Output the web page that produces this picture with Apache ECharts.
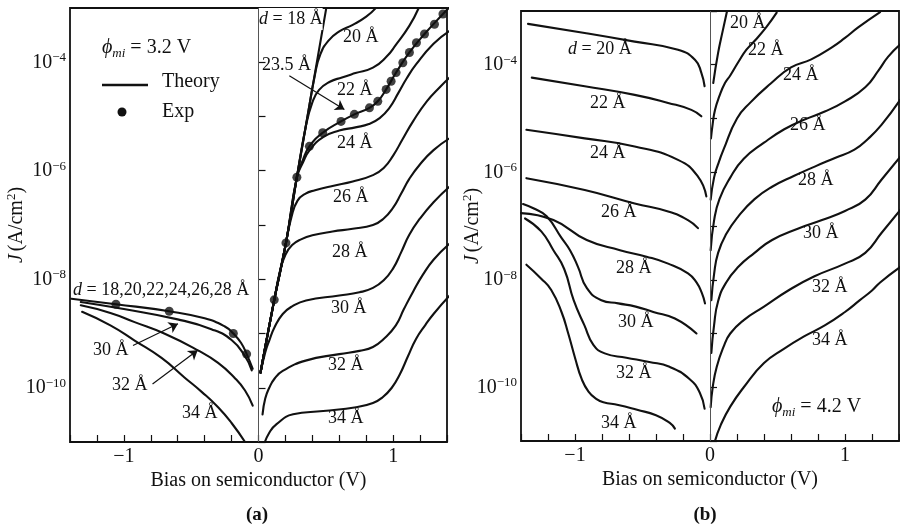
<!DOCTYPE html>
<html><head><meta charset="utf-8">
<script src="https://cdn.jsdelivr.net/npm/echarts/dist/echarts.min.js"></script>
<style>html,body{margin:0;padding:0;background:#fff}#c{width:900px;height:527px}</style>
</head><body><div id="c"></div>
<script>
// ---------- DATA (x = bias V, values = log10 J [A/cm^2]) ----------
// Panel (a), phi_mi = 3.2 V, forward bias
const Va18  = [0.015, 0.117, 0.204, 0.285, 0.502];
const La18  = [-9.72, -8.38, -7.33, -6.12, -3.02];
const Va20  = [0.015, 0.117, 0.204, 0.285, 0.36, 0.42, 0.46, 0.52, 0.60, 0.70, 0.80, 0.88];
const La20  = [-9.72, -8.38, -7.33, -6.12, -5.06, -4.22, -3.85, -3.60, -3.43, -3.31, -3.16, -2.98];
const Va22  = [0.015, 0.117, 0.204, 0.285, 0.35, 0.40, 0.45, 0.53, 0.62, 0.72, 0.85, 0.95, 1.02, 1.12, 1.19];
const La22  = [-9.72, -8.38, -7.33, -6.12, -5.20, -4.74, -4.51, -4.36, -4.28, -4.20, -4.10, -3.90, -3.68, -3.33, -3.00];
const Va235 = [0.015, 0.117, 0.204, 0.285, 0.33, 0.378, 0.477, 0.613, 0.712, 0.824, 0.886, 0.948, 1.022, 1.121, 1.233, 1.37, 1.42];
const La235 = [-9.72, -8.38, -7.33, -6.12, -5.80, -5.55, -5.30, -5.09, -4.96, -4.84, -4.72, -4.50, -4.19, -3.82, -3.48, -3.11, -2.98];
const Va24  = [0.015, 0.117, 0.204, 0.285, 0.33, 0.38, 0.48, 0.60, 0.72, 0.82, 0.90, 0.97, 1.04, 1.10, 1.17, 1.30, 1.42];
const La24  = [-9.72, -8.38, -7.33, -6.12, -5.85, -5.62, -5.38, -5.26, -5.20, -5.14, -5.03, -4.85, -4.56, -4.30, -4.04, -3.66, -3.42];
const Va26  = [0.015, 0.117, 0.204, 0.245, 0.29, 0.35, 0.42, 0.55, 0.70, 0.85, 0.93, 1.00, 1.07, 1.15, 1.25, 1.35, 1.42];
const La26  = [-9.72, -8.38, -7.33, -6.85, -6.55, -6.42, -6.36, -6.28, -6.20, -6.08, -5.95, -5.72, -5.42, -5.08, -4.72, -4.45, -4.28];
const Va28  = [0.015, 0.117, 0.16, 0.20, 0.25, 0.32, 0.40, 0.55, 0.70, 0.85, 0.93, 1.00, 1.06, 1.12, 1.20, 1.30, 1.42];
const La28  = [-9.72, -8.38, -7.85, -7.55, -7.37, -7.26, -7.19, -7.12, -7.07, -7.00, -6.88, -6.68, -6.42, -6.15, -5.88, -5.62, -5.40];
const Va30  = [0.015, 0.05, 0.08, 0.12, 0.18, 0.25, 0.353, 0.60, 0.75, 0.85, 0.93, 1.00, 1.06, 1.12, 1.20, 1.30, 1.42];
const La30  = [-9.72, -9.35, -9.13, -8.88, -8.64, -8.50, -8.39, -8.30, -8.24, -8.16, -8.02, -7.80, -7.50, -7.18, -6.88, -6.58, -6.29];
const Va32  = [0.03, 0.05, 0.08, 0.12, 0.18, 0.35, 0.60, 0.75, 0.85, 0.93, 1.02, 1.08, 1.15, 1.22, 1.30, 1.42];
const La32  = [-10.49, -10.20, -10.00, -9.83, -9.69, -9.50, -9.38, -9.32, -9.25, -9.10, -8.85, -8.55, -8.22, -7.92, -7.64, -7.34];
const Va34  = [0.04, 0.08, 0.134, 0.257, 0.48, 0.725, 0.85, 0.92, 0.99, 1.05, 1.11, 1.17, 1.24, 1.30, 1.42];
const La34  = [-11.05, -10.83, -10.67, -10.49, -10.43, -10.36, -10.28, -10.18, -10.00, -9.75, -9.42, -9.10, -8.84, -8.64, -8.30];
// Panel (a), reverse bias
const VaR1828 = [-1.39, -1.059, -0.663, -0.40, -0.25, -0.187, -0.13, -0.088, -0.043];
const LaR1828 = [-8.36, -8.46, -8.59, -8.72, -8.87, -9.00, -9.17, -9.38, -9.65];
const VaR30 = [-1.32, -1.00, -0.60, -0.35, -0.20, -0.10, -0.05];
const LaR30 = [-8.42, -8.55, -8.74, -8.92, -9.12, -9.42, -9.68];
const VaR32 = [-1.32, -1.10, -0.92, -0.70, -0.45, -0.30, -0.18, -0.10, -0.043];
const LaR32 = [-8.48, -8.62, -8.79, -9.00, -9.31, -9.54, -9.81, -10.05, -10.33];
const VaR34 = [-1.31, -1.10, -0.92, -0.72, -0.55, -0.42, -0.30, -0.20, -0.10];
const LaR34 = [-8.60, -8.85, -9.13, -9.45, -9.81, -10.08, -10.36, -10.65, -11.00];
// Panel (a), experimental points
const VaExp = [-1.059, -0.663, -0.187, -0.088, 0.117, 0.204, 0.285, 0.378, 0.477, 0.613, 0.712, 0.824, 0.886, 0.948, 0.985, 1.022, 1.072, 1.121, 1.173, 1.233, 1.307, 1.37];
const LaExp = [-8.46, -8.59, -9.00, -9.38, -8.38, -7.33, -6.12, -5.55, -5.30, -5.09, -4.96, -4.84, -4.72, -4.50, -4.35, -4.19, -4.01, -3.82, -3.64, -3.48, -3.30, -3.11];

// Panel (b), phi_mi = 4.2 V, reverse bias
const VbR20 = [-1.348, -0.928, -0.558, -0.237, -0.11, -0.064, -0.04];
const LbR20 = [-3.24, -3.41, -3.57, -3.72, -3.91, -4.15, -4.40];
const VbR22 = [-1.32, -0.928, -0.558, -0.31, -0.138, -0.064];
const LbR22 = [-4.24, -4.40, -4.56, -4.71, -4.84, -4.96];
const VbR24 = [-1.36, -0.928, -0.558, -0.237, -0.089, -0.027];
const LbR24 = [-5.21, -5.37, -5.52, -5.77, -6.08, -6.45];
const VbR26 = [-1.36, -0.928, -0.558, -0.31, -0.163, -0.089];
const LbR26 = [-6.11, -6.33, -6.58, -6.73, -6.89, -7.04];
const VbR28 = [-1.40, -1.16, -0.913, -0.667, -0.47, -0.31, -0.163, -0.10, -0.06, -0.037];
const LbR28 = [-6.76, -6.89, -7.26, -7.45, -7.57, -7.70, -7.88, -8.05, -8.25, -8.44];
const VbR30 = [-1.385, -1.30, -1.21, -1.10, -1.037, -0.978, -0.913, -0.805, -0.68, -0.55, -0.42, -0.26, -0.10];
const LbR30 = [-6.59, -6.68, -6.82, -7.22, -7.45, -7.76, -8.15, -8.38, -8.44, -8.50, -8.60, -8.72, -9.00];
const VbR32 = [-1.37, -1.25, -1.16, -1.08, -1.01, -0.93, -0.864, -0.78, -0.62, -0.45, -0.30, -0.15, -0.074, -0.04];
const LbR32 = [-6.86, -7.10, -7.45, -7.80, -8.38, -8.85, -9.21, -9.37, -9.45, -9.53, -9.62, -9.85, -10.11, -10.40];
const VbR34 = [-1.36, -1.25, -1.176, -1.10, -1.05, -1.00, -0.95, -0.90, -0.84, -0.79, -0.68, -0.54, -0.40, -0.30, -0.26];
const LbR34 = [-7.72, -7.98, -8.19, -8.60, -9.00, -9.45, -9.85, -10.08, -10.22, -10.28, -10.33, -10.42, -10.52, -10.66, -10.77];
// Panel (b), forward bias
const VbF20 = [0.024, 0.06, 0.095, 0.128];
const LbF20 = [-4.34, -3.78, -3.36, -2.98];
const VbF22 = [0.007, 0.02, 0.037, 0.07, 0.111, 0.15, 0.21, 0.27, 0.333, 0.42, 0.494];
const LbF22 = [-5.37, -5.10, -4.84, -4.58, -4.34, -4.20, -3.95, -3.72, -3.55, -3.29, -3.03];
const VbF24 = [0.005, 0.03, 0.06, 0.10, 0.20, 0.30, 0.45, 0.60, 0.75, 0.90, 1.00, 1.10, 1.26];
const LbF24 = [-6.51, -6.10, -5.85, -5.58, -5.00, -4.70, -4.35, -4.05, -3.90, -3.68, -3.50, -3.30, -3.02];
const VbF26 = [0.005, 0.03, 0.07, 0.15, 0.25, 0.40, 0.55, 0.70, 0.85, 1.00, 1.15, 1.25, 1.32, 1.41];
const LbF26 = [-7.45, -6.90, -6.50, -6.10, -5.75, -5.45, -5.20, -5.02, -4.87, -4.68, -4.42, -4.10, -3.85, -3.62];
const VbF28 = [0.01, 0.03, 0.06, 0.12, 0.21, 0.33, 0.46, 0.62, 0.78, 0.93, 1.07, 1.17, 1.27, 1.41];
const LbF28 = [-8.38, -7.90, -7.50, -7.15, -6.82, -6.50, -6.27, -6.07, -5.89, -5.73, -5.58, -5.38, -5.12, -4.65];
const VbF30 = [0.01, 0.03, 0.06, 0.12, 0.21, 0.33, 0.46, 0.65, 0.83, 1.00, 1.15, 1.27, 1.41];
const LbF30 = [-9.36, -8.85, -8.40, -8.05, -7.76, -7.50, -7.26, -7.05, -6.89, -6.72, -6.51, -6.14, -5.71];
const VbF32 = [0.005, 0.02, 0.05, 0.10, 0.15, 0.25, 0.40, 0.58, 0.77, 1.00, 1.15, 1.27, 1.41];
const LbF32 = [-10.37, -10.00, -9.62, -9.25, -9.00, -8.75, -8.50, -8.20, -7.94, -7.70, -7.50, -7.13, -6.70];
const VbF34 = [0.037, 0.08, 0.15, 0.25, 0.40, 0.55, 0.70, 0.85, 1.00, 1.11, 1.20, 1.26, 1.41];
const LbF34 = [-11.00, -10.70, -10.36, -10.00, -9.55, -9.28, -9.05, -8.85, -8.60, -8.38, -8.20, -8.05, -7.76];

// annotation arrows in panel (a): [V0, logJ0, V1, logJ1]
const arrowsA = [[-0.932, -9.22, -0.598, -8.82], [-0.787, -9.93, -0.452, -9.31], [0.229, -4.25, 0.638, -4.87]];

// ---------- CHART ----------
const FONT = "'Liberation Serif','Times New Roman',Times,serif";
const INK = '#111';
const curvesA = [[Va18,La18],[Va20,La20],[Va22,La22],[Va235,La235],[Va24,La24],[Va26,La26],[Va28,La28],[Va30,La30],[Va32,La32],[Va34,La34],[VaR1828,LaR1828],[VaR30,LaR30],[VaR32,LaR32],[VaR34,LaR34]];
const curvesB = [[VbR20,LbR20],[VbR22,LbR22],[VbR24,LbR24],[VbR26,LbR26],[VbR28,LbR28],[VbR30,LbR30],[VbR32,LbR32],[VbR34,LbR34],[VbF20,LbF20],[VbF22,LbF22],[VbF24,LbF24],[VbF26,LbF26],[VbF28,LbF28],[VbF30,LbF30],[VbF32,LbF32],[VbF34,LbF34]];

const pts = (V, L) => V.map((v, i) => [v, Math.pow(10, L[i])]);
const series = [];
function addCurve(g, V, L) {
  series.push({type:'line', xAxisIndex:g, yAxisIndex:g, data:pts(V,L), showSymbol:false, symbol:'none',
    smooth:0.5, clip:true, silent:true,
    lineStyle:{color:INK, width:2.1, cap:'round', join:'round'}});
}
curvesA.forEach(c => addCurve(0, c[0], c[1]));
curvesB.forEach(c => addCurve(1, c[0], c[1]));

// zero lines + arrows
const zeroLine = g => ({type:'line', xAxisIndex:g, yAxisIndex:g, data:[], silent:true, z:1,
  markLine:{silent:true, symbol:['none','none'], label:{show:false},
    lineStyle:{color:'#555', width:1, type:'solid'}, data:[{xAxis:0}]}});
series.push(zeroLine(0));
series.push(zeroLine(1));
series.push({type:'line', xAxisIndex:0, yAxisIndex:0, data:[], silent:true,
  markLine:{silent:true, symbol:['none','arrow'], symbolSize:9, label:{show:false},
    lineStyle:{color:INK, width:1.2, type:'solid'},
    data: arrowsA.map(a => [{coord:[a[0], Math.pow(10,a[1])]}, {coord:[a[2], Math.pow(10,a[3])]}])}});
// experimental points
series.push({type:'scatter', xAxisIndex:0, yAxisIndex:0, data:pts(VaExp, LaExp), symbol:'circle', symbolSize:9,
  itemStyle:{color:INK}, silent:true});

const xLab = v => { const r = Math.round(v); return Math.abs(v - r) < 1e-6 ? (r < 0 ? '\u2212' + (-r) : String(r)) : ''; };
const yLab = v => { const e = Math.round(Math.log10(v)); return (e % 2 === 0 && e >= -10 && e <= -4) ? '{b|10}{s|\u2212' + (-e) + '}' : ''; };
const yRich = {b:{fontSize:20, fontFamily:FONT, color:INK, lineHeight:22},
               s:{fontSize:13, fontFamily:FONT, color:INK, verticalAlign:'top', lineHeight:13}};
const nameRich = {i:{fontSize:20, fontFamily:FONT, fontStyle:'italic', color:INK, lineHeight:24},
                  n:{fontSize:20, fontFamily:FONT, color:INK, lineHeight:24},
                  s:{fontSize:13, fontFamily:FONT, color:INK, verticalAlign:'top', lineHeight:13}};

function xAxis(g) {
  return {type:'value', gridIndex:g, min:-1.4, max:1.4, interval:0.2,
    axisLine:{show:false}, splitLine:{show:false},
    axisTick:{show:true, inside:true, length:7, lineStyle:{color:INK, width:1.2}},
    axisLabel:{formatter:xLab, fontSize:20, fontFamily:FONT, color:INK, margin:5, showMinLabel:true, showMaxLabel:true},
    name:'Bias on semiconductor (V)', nameLocation:'middle', nameGap:29, nameMoveOverlap:false,
    nameTextStyle:{fontSize:20, fontFamily:FONT, color:INK}};
}
function yAxis(g, gap) {
  return {type:'log', logBase:10, gridIndex:g, min:1e-11, max:1e-3, splitNumber:8,
    axisLine:{show:false}, splitLine:{show:false}, minorTick:{show:false},
    axisTick:{show:true, inside:true, length:7, lineStyle:{color:INK, width:1.2}},
    axisLabel:{formatter:yLab, rich:yRich, margin:4, showMinLabel:true, showMaxLabel:true},
    name:'{i|J} {n|(A/cm}{s|2}{n|)}', nameLocation:'middle', nameGap:gap, nameMoveOverlap:false,
    nameTextStyle:{rich:nameRich}};
}

const T = (x, y, text, o) => Object.assign({type:'text', x:x, y:y, silent:true, z:100,
  style:Object.assign({text:text, font:'18px ' + FONT, fill:INK, textAlign:'left', textVerticalAlign:'middle', align:'left', verticalAlign:'middle'}, (o && o.style) || {})});
const richD = {i:{fontSize:18, fontFamily:FONT, fontStyle:'italic', fill:INK}, n:{fontSize:18, fontFamily:FONT, fill:INK}};
const richPhi = {i:{fontSize:20, fontFamily:FONT, fontStyle:'italic', fill:INK, lineHeight:24},
                 sub:{fontSize:13, fontFamily:FONT, fontStyle:'italic', fill:INK, verticalAlign:'bottom', lineHeight:13},
                 n:{fontSize:20, fontFamily:FONT, fill:INK, lineHeight:24}};

const graphic = [
  // panel (a)
  T(102, 48, '{i|\u03d5}{sub|mi}{n| = 3.2 V}', {style:{rich:richPhi}}),
  {type:'line', silent:true, shape:{x1:102, y1:85, x2:148, y2:85}, style:{stroke:INK, lineWidth:2.5}},
  T(162, 82, 'Theory', {style:{font:'20px ' + FONT}}),
  {type:'circle', silent:true, shape:{cx:122, cy:112, r:4.5}, style:{fill:INK}},
  T(162, 112, 'Exp', {style:{font:'20px ' + FONT}}),
  T(259, 19, '{i|d}{n| = 18 \u00c5}', {style:{rich:richD, backgroundColor:'#fff', padding:[2,0,2,0]}}),
  T(343, 37, '20 \u00c5'), T(262, 65, '23.5 \u00c5'), T(337, 90, '22 \u00c5'), T(337, 143, '24 \u00c5'),
  T(333, 197, '26 \u00c5'), T(332, 252, '28 \u00c5'), T(331, 308, '30 \u00c5'), T(328, 365, '32 \u00c5'), T(328, 418, '34 \u00c5'),
  T(73, 290, '{i|d}{n| = 18,20,22,24,26,28 \u00c5}', {style:{rich:richD}}),
  T(93, 350, '30 \u00c5'), T(112, 385, '32 \u00c5'), T(182, 413, '34 \u00c5'),
  T(257, 515, '(a)', {style:{font:'bold 19px ' + FONT, textAlign:'center', align:'center'}}),
  // panel (b)
  T(568, 49, '{i|d}{n| = 20 \u00c5}', {style:{rich:richD}}),
  T(590, 103, '22 \u00c5'), T(590, 153, '24 \u00c5'), T(601, 212, '26 \u00c5'), T(616, 268, '28 \u00c5'),
  T(618, 322, '30 \u00c5'), T(616, 373, '32 \u00c5'), T(601, 423, '34 \u00c5'),
  T(730, 23, '20 \u00c5'), T(748, 50, '22 \u00c5'), T(783, 75, '24 \u00c5'), T(790, 125, '26 \u00c5'),
  T(798, 180, '28 \u00c5'), T(803, 233, '30 \u00c5'), T(812, 287, '32 \u00c5'), T(812, 340, '34 \u00c5'),
  T(772, 407, '{i|\u03d5}{sub|mi}{n| = 4.2 V}', {style:{rich:richPhi}}),
  T(705, 515, '(b)', {style:{font:'bold 19px ' + FONT, textAlign:'center', align:'center'}})
];

const chart = echarts.init(document.getElementById('c'), null, {renderer:'canvas'});
chart.setOption({
  animation:false,
  backgroundColor:'#fff',
  textStyle:{fontFamily:FONT},
  grid:[
    {left:70, top:8, width:377, height:434, show:true, borderColor:INK, borderWidth:1.8, backgroundColor:'transparent', containLabel:false, outerBoundsMode:'none'},
    {left:521, top:11, width:378, height:430, show:true, borderColor:INK, borderWidth:1.8, backgroundColor:'transparent', containLabel:false, outerBoundsMode:'none'}
  ],
  xAxis:[xAxis(0), xAxis(1)],
  yAxis:[yAxis(0, 41), yAxis(1, 36)],
  series:series,
  graphic:graphic
});
</script></body></html>
